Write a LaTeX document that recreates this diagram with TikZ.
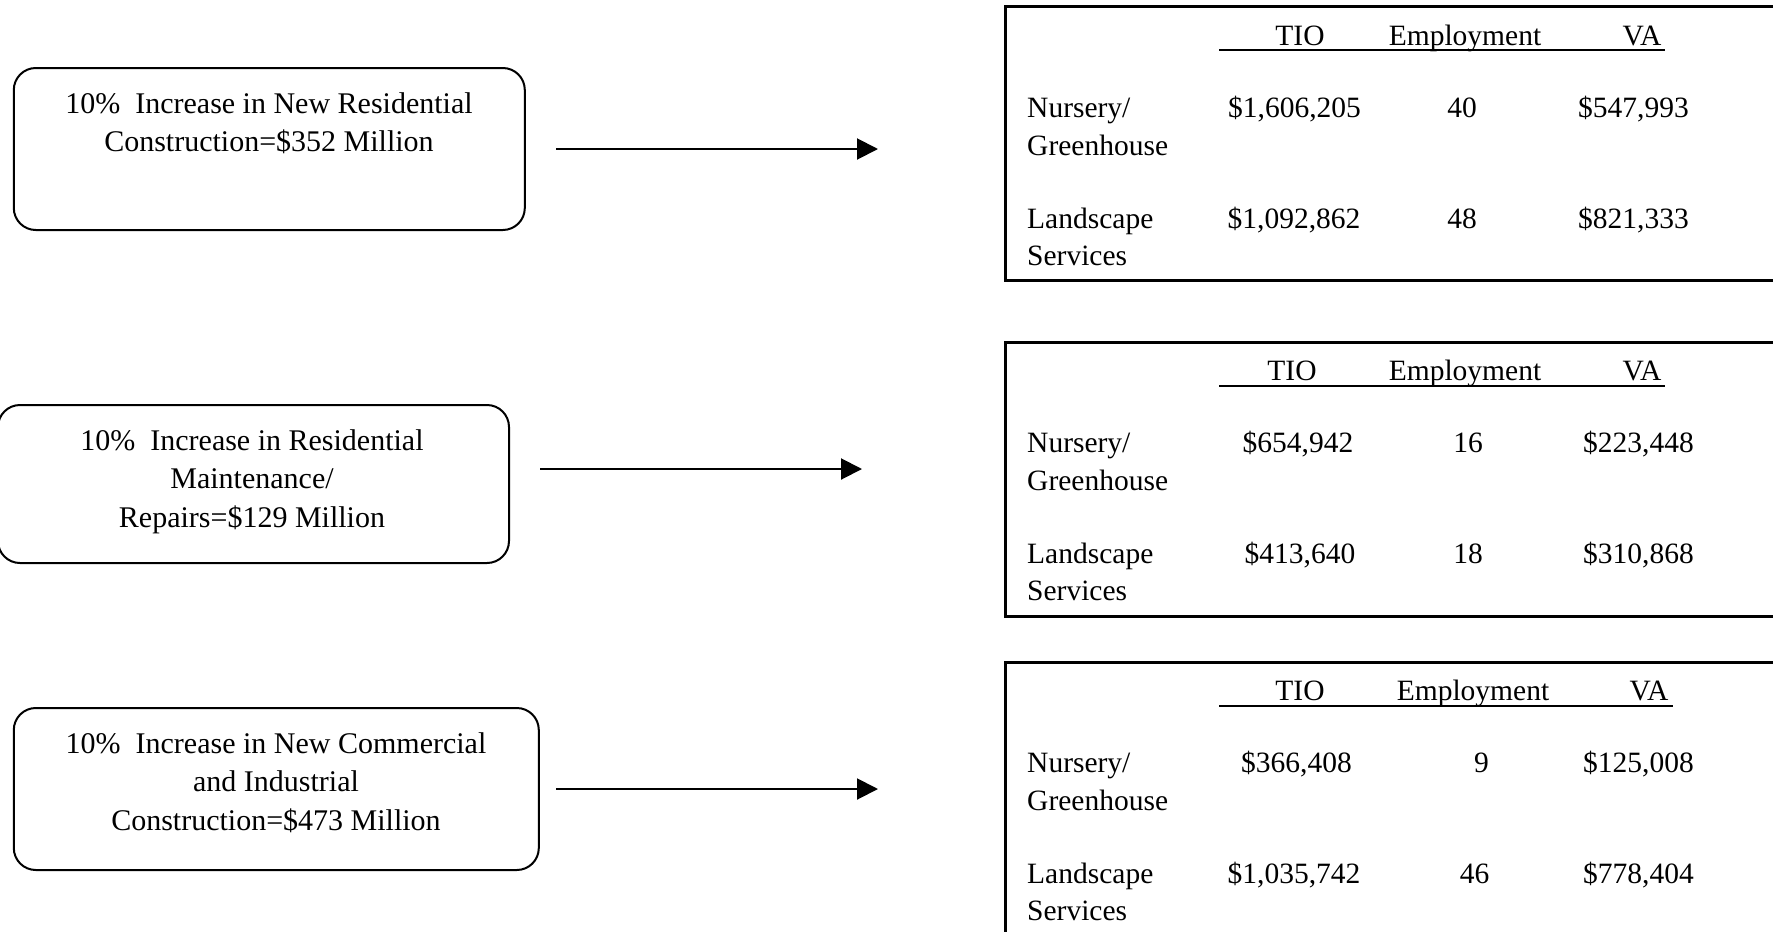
\documentclass[tikz,border=0pt]{standalone}
\usepackage{fontspec}
\setmainfont{Liberation Serif}
\usetikzlibrary{arrows.meta}
\tikzset{
  lbox/.style={draw, line width=2pt, rounded corners=22pt, inner sep=0pt},
  ltext/.style={font=\fontsize{30}{38.5}\selectfont, align=center, inner sep=0pt, anchor=base},
  tbox/.style={draw, line width=2.7pt, inner sep=0pt, minimum height=274pt, minimum width=1000pt, anchor=north west},
  cell/.style={font=\fontsize{29.5}{38}\selectfont, inner sep=0pt, anchor=base},
  rowlab/.style={cell, anchor=base west},
  uline/.style={line width=2pt},
  arr/.style={line width=2pt, -{Triangle[length=21pt,width=21pt]}}
}
\begin{document}
\begin{tikzpicture}[x=1pt,y=-1pt]
\useasboundingbox (0,0) rectangle (1773,932);
\clip (0,0) rectangle (1773,932);

% left boxes
\node[lbox, minimum width=511pt, minimum height=162pt] (b1) at (269.3,149) {};
\node[ltext] (t1) at (269,151.5) {10\%\ \ Increase in New Residential\\Construction=\$352 Million};
\node[lbox, minimum width=511pt, minimum height=158pt] (b2) at (253.5,484) {};
\node[ltext] (t2) at (252,527) {10\%\ \ Increase in Residential\\Maintenance/\\Repairs=\$129 Million};
\node[lbox, minimum width=525pt, minimum height=162pt] (b3) at (276.3,789) {};
\node[ltext] (t3) at (276,830) {10\%\ \ Increase in New Commercial\\and Industrial\\Construction=\$473 Million};

% arrows
\coordinate (a1s) at (556,149); \coordinate (a1e) at (878,149);
\coordinate (a2s) at (540,469); \coordinate (a2e) at (862,469);
\coordinate (a3s) at (556,789); \coordinate (a3e) at (878,789);
\draw[arr] (a1s) -- (a1e);
\draw[arr] (a2s) -- (a2e);
\draw[arr] (a3s) -- (a3e);

% table 1
\node[tbox] (T1) at (1004,5) {};
\node[cell] (T1h1) at (1300,45) {TIO};
\node[cell] (T1h2) at (1465,45) {Employment};
\node[cell] (T1h3) at (1642,45) {VA};
\coordinate (T1u1) at (1219,50); \coordinate (T1u2) at (1665,50);
\draw[uline] (T1u1) -- (T1u2);
\node[rowlab] (T1r1) at (1027,117) {Nursery/};
\node[rowlab] (T1r1b) at (1027,155) {Greenhouse};
\node[rowlab] (T1r2) at (1027,228) {Landscape};
\node[rowlab] (T1r2b) at (1027,265) {Services};
\node[cell] (T1a) at (1294.5,117) {\$1,606,205};
\node[cell] (T1b) at (1462,117) {40};
\node[cell] (T1c) at (1633.5,117) {\$547,993};
\node[cell] (T1d) at (1294,228) {\$1,092,862};
\node[cell] (T1e) at (1462,228) {48};
\node[cell] (T1f) at (1633.5,228) {\$821,333};

% table 2
\node[tbox] (T2) at (1004,341) {};
\node[cell] (T2h1) at (1292,380) {TIO};
\node[cell] (T2h2) at (1465,380) {Employment};
\node[cell] (T2h3) at (1642,380) {VA};
\coordinate (T2u1) at (1219,386); \coordinate (T2u2) at (1665,386);
\draw[uline] (T2u1) -- (T2u2);
\node[rowlab] (T2r1) at (1027,452) {Nursery/};
\node[rowlab] (T2r1b) at (1027,490) {Greenhouse};
\node[rowlab] (T2r2) at (1027,563) {Landscape};
\node[rowlab] (T2r2b) at (1027,600) {Services};
\node[cell] (T2a) at (1298,452) {\$654,942};
\node[cell] (T2b) at (1468,452) {16};
\node[cell] (T2c) at (1638.5,452) {\$223,448};
\node[cell] (T2d) at (1300,563) {\$413,640};
\node[cell] (T2e) at (1468,563) {18};
\node[cell] (T2f) at (1638.5,563) {\$310,868};

% table 3
\node[tbox] (T3) at (1004,661) {};
\node[cell] (T3h1) at (1300,700) {TIO};
\node[cell] (T3h2) at (1473,700) {Employment};
\node[cell] (T3h3) at (1649,700) {VA};
\coordinate (T3u1) at (1219,706); \coordinate (T3u2) at (1673,706);
\draw[uline] (T3u1) -- (T3u2);
\node[rowlab] (T3r1) at (1027,772) {Nursery/};
\node[rowlab] (T3r1b) at (1027,810) {Greenhouse};
\node[rowlab] (T3r2) at (1027,883) {Landscape};
\node[rowlab] (T3r2b) at (1027,920) {Services};
\node[cell] (T3a) at (1296.5,772) {\$366,408};
\node[cell] (T3b) at (1481.5,772) {9};
\node[cell] (T3c) at (1638.5,772) {\$125,008};
\node[cell] (T3d) at (1294,883) {\$1,035,742};
\node[cell] (T3e) at (1474.5,883) {46};
\node[cell] (T3f) at (1638.5,883) {\$778,404};
\end{tikzpicture}
\end{document}
